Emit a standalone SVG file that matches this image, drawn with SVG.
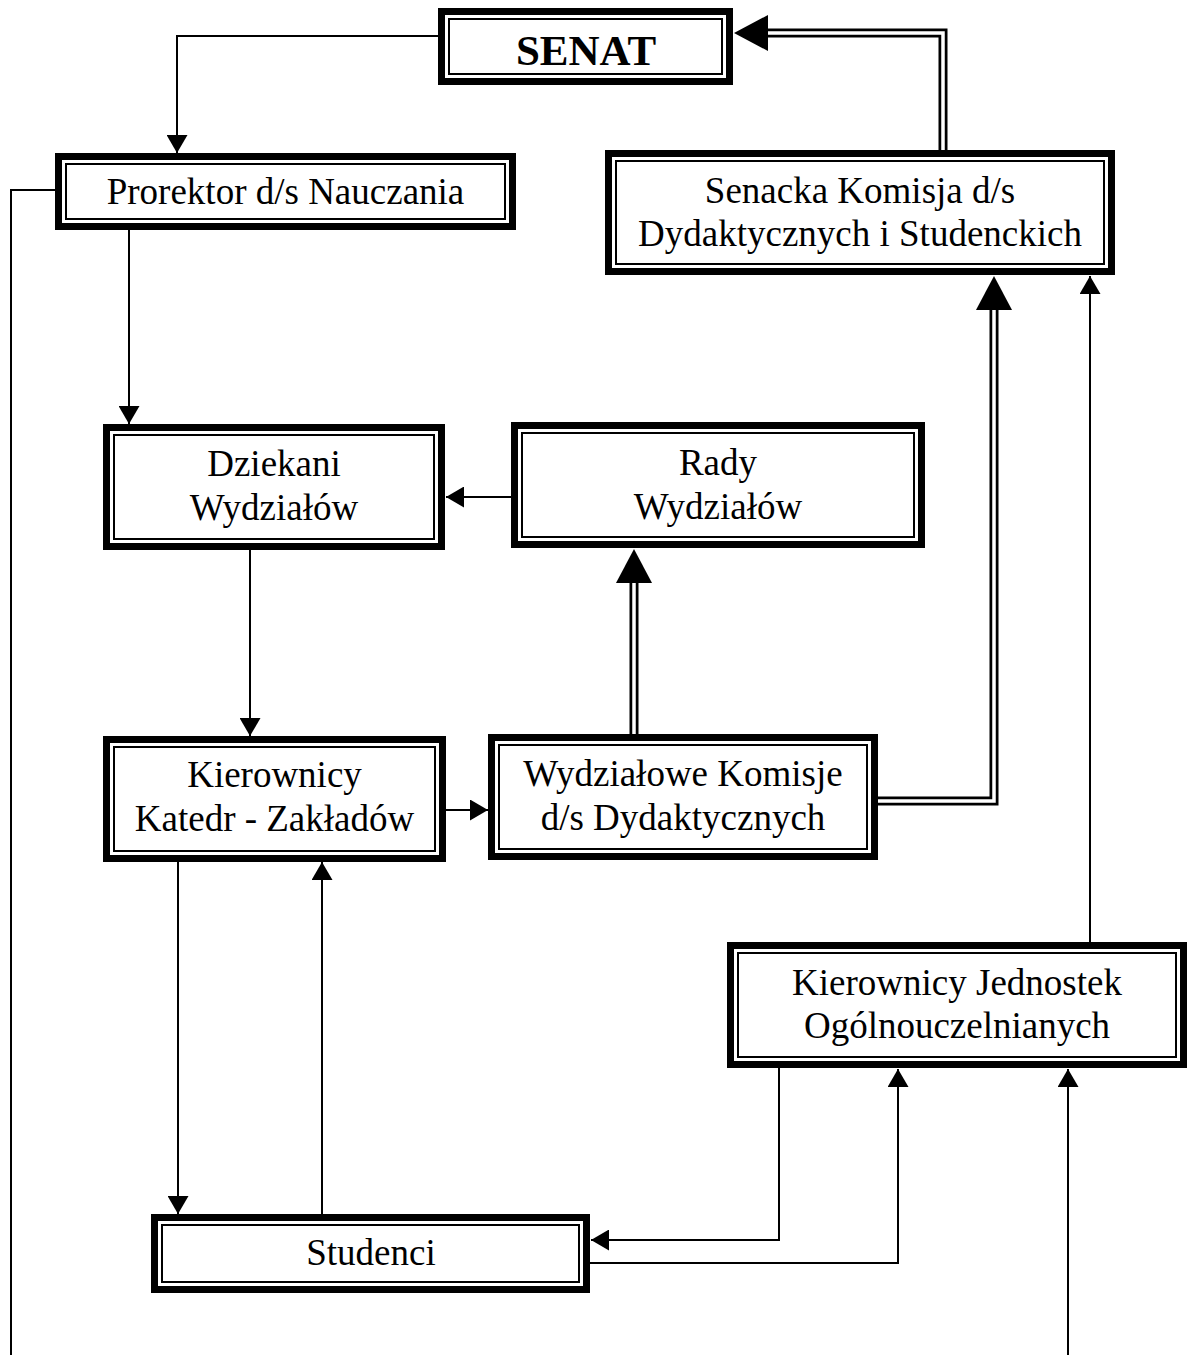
<svg xmlns="http://www.w3.org/2000/svg" width="1188" height="1355" viewBox="0 0 1188 1355">
<style>
.bg{fill:#fff}
.outer{fill:#fff;stroke:#000;stroke-width:7}
.inner{fill:none;stroke:#000;stroke-width:2}
.t{font-family:"Liberation Serif","Times New Roman",serif;font-size:37px;fill:#000;text-anchor:middle}
.tb{font-weight:bold;font-size:43px}
.thin{fill:none;stroke:#000;stroke-width:2}
.dblk{fill:none;stroke:#000;stroke-width:9;stroke-linejoin:miter}
.dwht{fill:none;stroke:#fff;stroke-width:3.5;stroke-linejoin:miter}
.big{fill:#000}
</style>
<defs>
<marker id="sa" markerUnits="userSpaceOnUse" markerWidth="18" markerHeight="21" refX="18" refY="10.5" orient="auto"><path d="M0,0 L18,10.5 L0,21 z" fill="#000"/></marker>
</defs>
<rect class="bg" x="0" y="0" width="1188" height="1355"/>
<g id="connectors">
<path class="thin" d="M440 36 H177 V153" marker-end="url(#sa)"/>
<path class="thin" d="M129 230 V424" marker-end="url(#sa)"/>
<path class="thin" d="M55 190 H11 V1355"/>
<path class="thin" d="M1068 1355 V1069" marker-end="url(#sa)"/>
<path class="thin" d="M511 497 H446" marker-end="url(#sa)"/>
<path class="thin" d="M250 550 V736" marker-end="url(#sa)"/>
<path class="thin" d="M446 810 H488" marker-end="url(#sa)"/>
<path class="thin" d="M1090 942 V276" marker-end="url(#sa)"/>
<path class="thin" d="M178 862 V1214" marker-end="url(#sa)"/>
<path class="thin" d="M322 1214 V862" marker-end="url(#sa)"/>
<path class="thin" d="M779 1068 V1240 H591" marker-end="url(#sa)"/>
<path class="thin" d="M590 1263 H898 V1069" marker-end="url(#sa)"/>
<path class="dblk" d="M943 150 V33 H767"/>
<path class="dwht" d="M943 150 V33 H767"/>
<polygon class="big" points="734,33 768,15 768,51"/>
<path class="dblk" d="M878 801 H994 V309"/>
<path class="dwht" d="M878 801 H994 V309"/>
<polygon class="big" points="994,276 976,310 1012,310"/>
<path class="dblk" d="M634 734 V582"/>
<path class="dwht" d="M634 734 V582"/>
<polygon class="big" points="634,549 616,583 652,583"/>
</g>
<g id="senat">
<rect class="outer" x="441.5" y="11.5" width="288" height="70"/>
<rect class="inner" x="449" y="19" width="273" height="55"/>
<text class="t tb" x="586" y="65">SENAT</text>
</g>
<g id="prorektor">
<rect class="outer" x="58.5" y="156.5" width="454" height="70"/>
<rect class="inner" x="66" y="164" width="439" height="55"/>
<text class="t" x="285.5" y="204">Prorektor d/s Nauczania</text>
</g>
<g id="senacka">
<rect class="outer" x="608.5" y="153.5" width="503" height="118"/>
<rect class="inner" x="616" y="161" width="488" height="103"/>
<text class="t" x="860" y="203">Senacka Komisja d/s</text>
<text class="t" x="860" y="246">Dydaktycznych i Studenckich</text>
</g>
<g id="dziekani">
<rect class="outer" x="106.5" y="427.5" width="335" height="119"/>
<rect class="inner" x="114" y="435" width="320" height="104"/>
<text class="t" x="274" y="476">Dziekani</text>
<text class="t" x="274" y="520">Wydziałów</text>
</g>
<g id="rady">
<rect class="outer" x="514.5" y="425.5" width="407" height="119"/>
<rect class="inner" x="522" y="433" width="392" height="104"/>
<text class="t" x="718" y="475">Rady</text>
<text class="t" x="718" y="519">Wydziałów</text>
</g>
<g id="kierownicy-katedr">
<rect class="outer" x="106.5" y="739.5" width="336" height="119"/>
<rect class="inner" x="114" y="747" width="321" height="104"/>
<text class="t" x="274.5" y="787">Kierownicy</text>
<text class="t" x="274.5" y="831">Katedr - Zakładów</text>
</g>
<g id="wydzialowe-komisje">
<rect class="outer" x="491.5" y="737.5" width="383" height="119"/>
<rect class="inner" x="499" y="745" width="368" height="104"/>
<text class="t" x="683" y="786">Wydziałowe Komisje</text>
<text class="t" x="683" y="830">d/s Dydaktycznych</text>
</g>
<g id="kierownicy-jednostek">
<rect class="outer" x="730.5" y="945.5" width="453" height="119"/>
<rect class="inner" x="738" y="953" width="438" height="104"/>
<text class="t" x="957" y="995">Kierownicy Jednostek</text>
<text class="t" x="957" y="1038">Ogólnouczelnianych</text>
</g>
<g id="studenci">
<rect class="outer" x="154.5" y="1217.5" width="432" height="72"/>
<rect class="inner" x="162" y="1225" width="417" height="57"/>
<text class="t" x="371" y="1265">Studenci</text>
</g>
</svg>
